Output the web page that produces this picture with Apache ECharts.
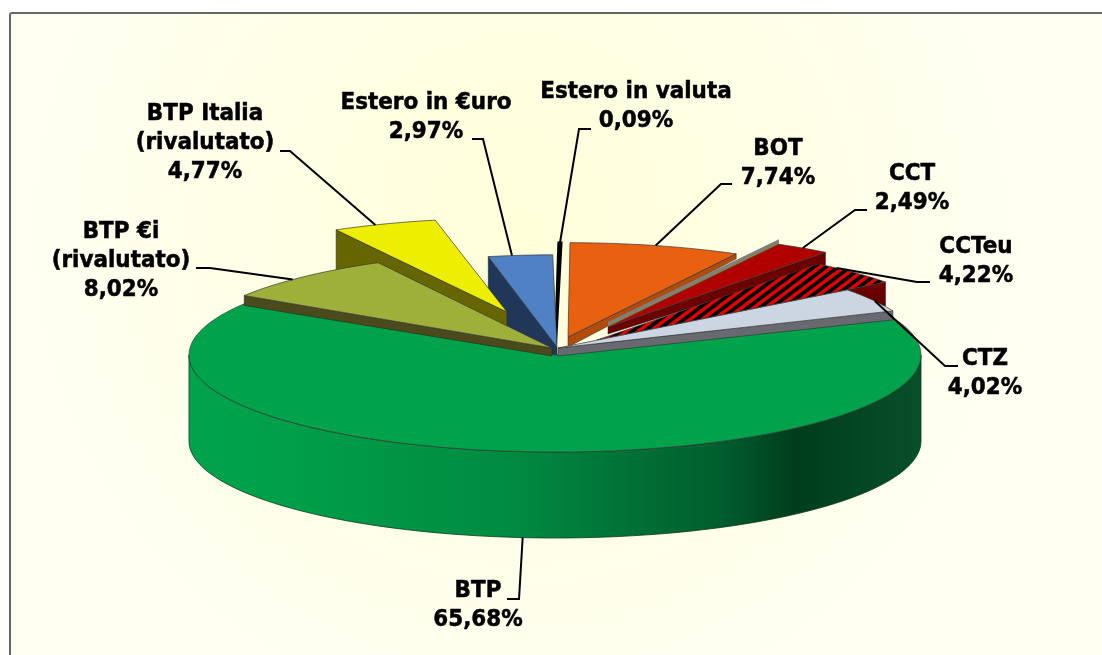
<!DOCTYPE html>
<html>
<head>
<meta charset="utf-8">
<title>Composizione titoli di Stato</title>
<script src="https://cdn.jsdelivr.net/npm/echarts@6/dist/echarts.min.js"></script>
<style>
html, body { margin: 0; padding: 0; background: #fff; }
#main { width: 1102px; height: 655px; }
</style>
</head>
<body>
<div id="main"></div>
<script type="text/javascript">
// dati, in senso orario a partire da ore 12
var categories = ['Estero in valuta', 'BOT', 'CCT', 'CCTeu', 'CTZ', 'BTP', 'BTP €i\n(rivalutato)', 'BTP Italia\n(rivalutato)', 'Estero in €uro'];
var shares = [0.09, 7.74, 2.49, 4.22, 4.02, 65.68, 8.02, 4.77, 2.97];

// impaginazione a torta 3D: ogni fetta ha il suo vertice, raggio e spessore
var tilt = 0.265;
var startAngle = 0.5;
var apexes = [[555.5, 345], [568, 337], [608, 327], [597, 340], [558, 348], [555, 355], [552, 348], [507, 312], [557, 347]];
var radii = [385, 356, 356, 362, 363, 366, 366, 354, 348];
var turns = [0, -0.5, 0, 0, 0, 0, -1, -1.5, -1.2];
var wallDepths = [[0, 0], [10, 5], [7, 13], [8, 24], [8, 9], [86, 86], [8, 10], [14, 50], [10, 60]];
var zOrder = [1, 5, 6, 7, 9, 8, 10, 3, 2];
var topColors = ['#000000', '#e86010', '#b00000', null, '#ccd6e2', '#00a34c', '#9fb03a', '#eeee00', '#4f81c4'];
var wallColors = ['#000000', '#b04c0c', '#6a0000', null, '#686a70', null, '#4a4a1c', '#666600', '#20375a'];
var labelCenters = [[636, 106], [778, 163], [912, 188], [976, 261], [985, 373], [478, 605], [121, 261], [205, 143], [426, 117]];
var leaderElbows = [[[591, 129], [579, 129]], [[732, 184], [721, 184]], [[867, 210], [855, 210]], [[930, 282], [917, 282]], [[958, 366], [945, 366]], [[507, 599], [519, 599]], [[196, 268], [210, 268]], [[280, 151], [290, 151]], [[472, 139], [483, 139]]];
var leaderAt = [0.5, 0.5, 0.5, 0.25, 0.55, 0.498, 0.42, 0.41, 0.37];

var total = 0;
for (var i = 0; i < shares.length; ++i) {
    total += shares[i];
}
var fromAngle = [], toAngle = [];
var run = startAngle;
for (var i = 0; i < shares.length; ++i) {
    fromAngle[i] = run + turns[i];
    run += shares[i] / total * 360;
    toAngle[i] = run + turns[i];
}

function rimPoint(i, deg, depth) {
    var a = deg * Math.PI / 180;
    return [
        apexes[i][0] + radii[i] * Math.sin(a),
        apexes[i][1] - radii[i] * tilt * Math.cos(a) + (depth || 0)
    ];
}

function arcPoints(i, a, b, depth) {
    var pts = [];
    var steps = Math.max(2, Math.ceil(Math.abs(b - a) / 2));
    for (var s = 0; s <= steps; ++s) {
        pts.push(rimPoint(i, a + (b - a) * s / steps, depth));
    }
    return pts;
}

// tratteggio rosso e nero del CCTeu
function hatchPattern() {
    var c = document.createElement('canvas');
    c.width = 12;
    c.height = 9;
    var g = c.getContext('2d');
    g.fillStyle = '#000';
    g.fillRect(0, 0, 12, 9);
    g.strokeStyle = '#e60000';
    g.lineWidth = 3.4;
    for (var k = -1; k <= 1; ++k) {
        g.beginPath();
        g.moveTo(-12, 18 + k * 9);
        g.lineTo(24, -9 + k * 9);
        g.stroke();
    }
    return { image: c, repeat: 'repeat' };
}
var hatch = hatchPattern();

var btpSide = {
    type: 'linear', x: 0, y: 0, x2: 1, y2: 0,
    colorStops: [
        { offset: 0, color: '#00a34c' },
        { offset: 0.12, color: '#00a04a' },
        { offset: 0.45, color: '#008a40' },
        { offset: 0.72, color: '#005f2e' },
        { offset: 0.83, color: '#003d1c' },
        { offset: 1, color: '#06502a' }
    ]
};
var cctEuWall = {
    type: 'linear', x: 0, y: 0, x2: 0, y2: 1,
    colorStops: [
        { offset: 0, color: '#700000' },
        { offset: 0.45, color: '#5a0000' },
        { offset: 0.8, color: '#000000' },
        { offset: 1, color: '#000000' }
    ]
};
wallColors[3] = cctEuWall;
topColors[3] = hatch;

function poly(points, fill, z2, stroke, width) {
    return {
        type: 'polygon',
        z2: z2,
        shape: { points: points },
        style: { fill: fill, stroke: stroke || null, lineWidth: width || 0 }
    };
}

function renderSlice(params, api) {
    var i = params.dataIndex;
    var value = api.value(0);
    var a = fromAngle[i], b = toAngle[i];
    var z = zOrder[i] * 10;
    var apex = apexes[i];
    var d0 = wallDepths[i][0], d1 = wallDepths[i][1];
    var big = value > 50;
    var children = [];

    if (big) {
        // la fetta grande mostra il bordo esterno davanti
        var topRim = arcPoints(i, 90, 270, 0);
        var lowRim = arcPoints(i, 270, 90, d1);
        children.push(poly(topRim.concat(lowRim), btpSide, z, '#0a3a20', 0.8));
    } else if (d1 > 0) {
        // parete di taglio rivolta verso chi guarda
        var edge = (a + b) / 2 < 180 ? b : a;
        children.push(poly([
            apex,
            rimPoint(i, edge, 0),
            rimPoint(i, edge, d1),
            [apex[0], apex[1] + d0]
        ], wallColors[i], z, '#222', 0.5));
    }

    if (categories[i] === 'CCT') {
        // sottile bordo grigio lungo il lato sinistro del CCT
        var corner = rimPoint(i, a, 0);
        children.push(poly([apex, corner, [corner[0], corner[1] - 5], [apex[0], apex[1] - 5]], '#7f7f7f', z));
        children.push(poly([[apex[0], apex[1] - 1.5], [corner[0], corner[1] - 1.5], corner, apex], '#9a8420', z + 1));
    }

    children.push(poly([apex].concat(arcPoints(i, a, b, 0)), topColors[i], z + 2,
        d1 === 0 ? '#000' : '#3a3a3a', d1 === 0 ? 3 : 0.7));

    // linea guida ed etichetta
    var end = rimPoint(i, a + (b - a) * leaderAt[i], big ? d1 : 0);
    children.push({
        type: 'polyline',
        z2: 200,
        shape: { points: [leaderElbows[i][0], leaderElbows[i][1], end] },
        style: { fill: null, stroke: '#000', lineWidth: 2 }
    });
    children.push({
        type: 'text',
        z2: 210,
        x: labelCenters[i][0],
        y: labelCenters[i][1],
        scaleY: 1.09,
        style: {
            text: categories[i] + '\n' + value.toFixed(2).replace('.', ',') + '%',
            fill: '#000',
            stroke: '#000',
            lineWidth: 0.5,
            fontFamily: '"DejaVu Sans"',
            fontWeight: 'bold',
            fontSize: 21.5,
            lineHeight: 26.6,
            align: 'center',
            verticalAlign: 'middle'
        }
    });
    return { type: 'group', children: children };
}

var seriesData = [];
for (var i = 0; i < shares.length; ++i) {
    seriesData.push([shares[i]]);
}

var myChart = echarts.init(document.getElementById('main'));
var option = {
    animation: false,
    graphic: [{
        type: 'rect',
        z: -1,
        shape: { x: 10, y: 13, width: 1110, height: 660, r: 2 },
        style: {
            stroke: '#666',
            lineWidth: 2,
            fill: {
                type: 'radial', x: 0.46, y: 0.33, r: 0.75,
                colorStops: [
                    { offset: 0, color: '#ffffda' },
                    { offset: 0.55, color: '#ffffe6' },
                    { offset: 1, color: '#fffff2' }
                ]
            }
        }
    }],
    series: [{
        type: 'custom',
        coordinateSystem: 'none',
        renderItem: renderSlice,
        data: seriesData,
        clip: false,
        silent: true
    }]
};
myChart.setOption(option);
</script>
</body>
</html>
